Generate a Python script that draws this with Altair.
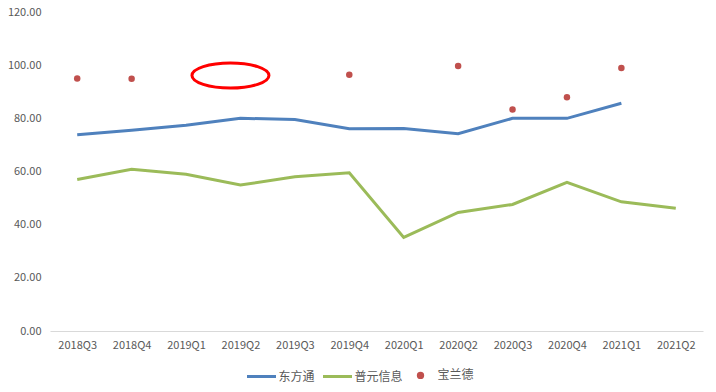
import altair as alt
import pandas as pd

quarters = ["2018Q3", "2018Q4", "2019Q1", "2019Q2", "2019Q3", "2019Q4",
            "2020Q1", "2020Q2", "2020Q3", "2020Q4", "2021Q1", "2021Q2"]
series_names = ["东方通", "普元信息", "宝兰德"]
dongfangtong = [73.8, 75.5, 77.4, 80.0, 79.6, 76.1, 76.2, 74.2, 80.0, 80.0, 85.7, None]
puyuan = [57.0, 60.8, 59.0, 54.9, 58.0, 59.5, 35.2, 44.6, 47.6, 55.9, 48.6, 46.2]
baolande = [95.0, 94.9, None, None, None, 96.4, None, 99.7, 83.3, 87.9, 98.9, None]
colors = ["#4F81BD", "#9BBB59", "#C0504D"]
y_ticks = [0, 20, 40, 60, 80, 100, 120]

# annotation ellipse (placed via data through the scales)
note_quarter = ["2019Q2"]
note_value = [96.1]

rows = []
for name, vals in zip(series_names, [dongfangtong, puyuan, baolande]):
    for q, v in zip(quarters, vals):
        if v is not None:
            rows.append({"quarter": q, "value": v, "series": name})
df = pd.DataFrame(rows)
note_df = pd.DataFrame({"quarter": note_quarter, "value": note_value})

FONT = "Noto Sans CJK SC"
TXT = "#595959"

x_enc = alt.X("quarter:N", sort=quarters,
              scale=alt.Scale(domain=quarters, type="point", padding=0.5),
              axis=alt.Axis(title=None, labelAngle=0, ticks=False, grid=False,
                            domain=True, domainColor="#D9D9D9", domainWidth=1,
                            labelPadding=8, labelColor=TXT, labelFontSize=11,
                            labelFont=FONT))
y_enc = alt.Y("value:Q",
              scale=alt.Scale(domain=[0, 120], nice=False, zero=True),
              axis=alt.Axis(title=None, values=y_ticks, format=".2f", grid=False,
                            domain=False, ticks=False, labelPadding=9,
                            labelColor=TXT, labelFontSize=11, labelFont=FONT))

is_dot = "datum.value === '宝兰德'"
small_circle = "M -0.15 0 A 0.15 0.15 0 1 0 0.15 0 A 0.15 0.15 0 1 0 -0.15 0 Z"
legend = alt.Legend(
    title=None, orient="none", direction="horizontal",
    legendX=195.5, legendY=347,
    symbolType=alt.ExprRef(f"{is_dot} ? '{small_circle}' : 'stroke'"),
    symbolSize=841,
    symbolStrokeWidth=3,
    symbolFillColor=alt.ExprRef("scale('color', datum.value)"),
    symbolStrokeColor=alt.ExprRef("scale('color', datum.value)"),
    symbolOpacity=1, labelFont=FONT, labelFontSize=12, labelColor=TXT,
    labelOffset=1, columnPadding=1, padding=0,
)
color_enc = alt.Color("series:N",
                      scale=alt.Scale(domain=series_names, range=colors),
                      legend=legend)

lines = alt.Chart(df).transform_filter(
    alt.FieldOneOfPredicate(field="series", oneOf=["东方通", "普元信息"])
).mark_line(strokeWidth=3).encode(x=x_enc, y=y_enc, color=color_enc)

dots = alt.Chart(df).transform_filter(
    alt.datum.series == "宝兰德"
).mark_circle(size=42, opacity=1).encode(x=x_enc, y=y_enc, color=color_enc)

ellipse_path = "M -1 0 A 1 0.325 0 1 0 1 0 A 1 0.325 0 1 0 -1 0 Z"
note = alt.Chart(note_df).mark_point(
    shape=ellipse_path, size=5929, filled=False, stroke="#FF0000",
    strokeWidth=3, opacity=1, xOffset=-10
).encode(x=x_enc, y=y_enc)

chart = alt.layer(lines, dots, note).properties(
    width=653, height=319,
    padding={"left": 50, "top": 12, "right": 13, "bottom": 61},
    autosize=alt.AutoSizeParams(type="none"),
    background="white",
).configure(font=FONT).configure_view(strokeWidth=0, stroke="transparent")

chart.save("out.html", embed_options={"renderer": "svg", "actions": False})
